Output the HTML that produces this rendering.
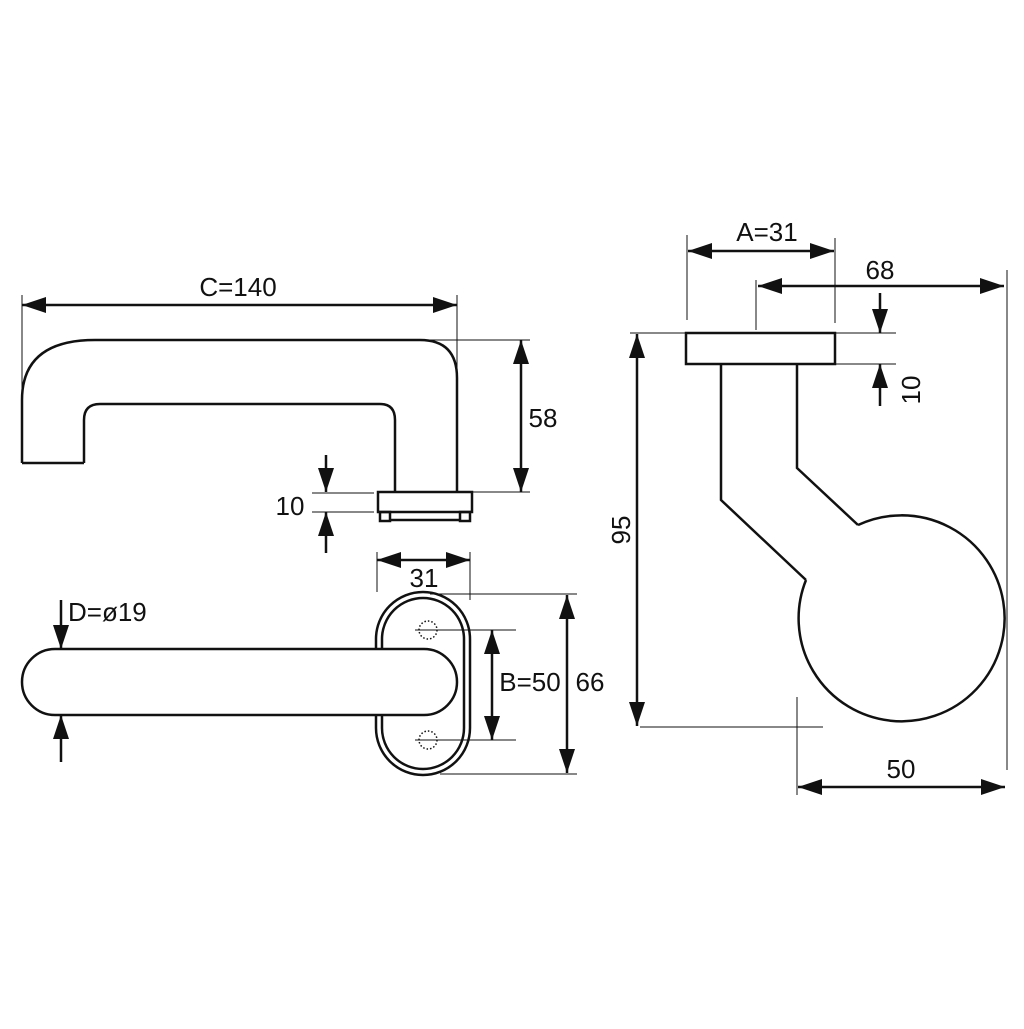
<!DOCTYPE html>
<html><head><style>body{margin:0;background:#fff}</style></head><body>
<svg width="1024" height="1024" viewBox="0 0 1024 1024" xmlns="http://www.w3.org/2000/svg">
<defs>
<marker id="a" viewBox="0 0 24 16" refX="24" refY="8" markerWidth="24" markerHeight="16" markerUnits="userSpaceOnUse" orient="auto-start-reverse"><path d="M0,0L24,8L0,16Z" fill="#111"/></marker>
</defs>
<g fill="none" stroke="#111">
<g stroke-width="2.5">
<path d="M22,463 V400 Q22,340 95,340 H420 Q457,340 457,378 V492"/>
<path d="M84,463 V420 Q84,404 100,404 H380 Q395,404 395,420 V492"/>
<path d="M22,463 H84"/>
<rect x="378" y="492" width="94" height="20" fill="#fff"/>
<rect x="380" y="512" width="10" height="9"/>
<rect x="460" y="512" width="10" height="9"/>
<path d="M390,520 H460"/>
</g>
<g stroke-width="1">
<path d="M22,295V395M457,295V385M430,340H530M472,492H530M312,493H374M312,512H374"/>
<path d="M377,552V592M470,552V600M415,630H516M415,740H516M430,594H577M440,774H577"/>
<path d="M687,235V320M835,238V323M756,280V330M1007,270V770M630,333H896M835,364H896M640,727H823M797,697V795"/>
</g>
<g stroke-width="2.5" marker-end="url(#a)">
<path d="M22,305H457" marker-start="url(#a)"/>
<path d="M521,340V492" marker-start="url(#a)"/>
<path d="M326,455V492"/><path d="M326,553V512"/>
<path d="M377,560H470" marker-start="url(#a)"/>
<path d="M492,630V740" marker-start="url(#a)"/>
<path d="M567,595V773" marker-start="url(#a)"/>
<path d="M61,600V649"/><path d="M61,762V715"/>
<path d="M688,251H834" marker-start="url(#a)"/>
<path d="M758,286H1004" marker-start="url(#a)"/>
<path d="M880,293V333"/><path d="M880,406V364"/>
<path d="M637,334V726" marker-start="url(#a)"/>
<path d="M798,787H1005" marker-start="url(#a)"/>
</g>
<g stroke-width="2.5">
<rect x="376" y="592" width="94" height="183" rx="47"/>
<rect x="382" y="598" width="82" height="171" rx="41"/>
<path d="M55,649 H424 A33,33 0 0 1 424,715 H55 A33,33 0 0 1 55,649Z" fill="#fff"/>
</g>
<g stroke-width="1.5" stroke-dasharray="1.5 2">
<circle cx="428" cy="630" r="9"/><circle cx="428" cy="740" r="9"/>
</g>
<g stroke-width="2.5">
<rect x="686" y="333" width="149" height="31"/>
<path d="M721,364V500L806,580"/>
<path d="M797,364V468L858,525"/>
<path d="M806,580 A103,103 0 1 0 858,525"/>
</g>
</g>
<g font-family="Liberation Sans, sans-serif" font-size="26" fill="#111" text-anchor="middle">
<text x="238" y="296">C=140</text>
<text x="543" y="427">58</text>
<text x="290" y="515">10</text>
<text x="424" y="587">31</text>
<text x="530" y="691">B=50</text>
<text x="590" y="691">66</text>
<text x="68" y="621" text-anchor="start">D=ø19</text>
<text x="767" y="241">A=31</text>
<text x="880" y="279">68</text>
<text x="901" y="778">50</text>
<text transform="translate(920,390) rotate(-90)">10</text>
<text transform="translate(630,530) rotate(-90)">95</text>
</g>
</svg>
</body></html>
